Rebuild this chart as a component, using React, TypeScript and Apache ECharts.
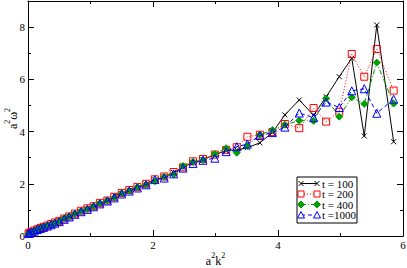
import React, { useEffect, useRef } from "react";
import * as echarts from "echarts";

const xValues = [
  0.01, 0.03, 0.06, 0.1, 0.15, 0.2, 0.25, 0.31, 0.37, 0.43, 0.5, 0.58, 0.66, 0.75, 0.85,
  0.95, 1.05, 1.15, 1.27, 1.38, 1.5, 1.62, 1.75, 1.89, 2.03, 2.18, 2.33, 2.48, 2.64, 2.8,
  2.99, 3.17, 3.34, 3.51, 3.71, 3.91, 4.11, 4.34, 4.57, 4.77, 4.98, 5.18, 5.38, 5.58, 5.85,
];

const t100 = [
  0.1, 0.12, 0.16, 0.2, 0.25, 0.3, 0.35, 0.39, 0.44, 0.5, 0.57, 0.65, 0.74, 0.84, 0.94,
  1.04, 1.14, 1.24, 1.36, 1.56, 1.62, 1.74, 1.86, 1.99, 2.15, 2.26, 2.43, 2.63, 2.82, 2.92,
  3.12, 3.26, 3.3, 3.38, 3.57, 3.96, 4.64, 5.21, 4.62, 5.33, 6.1, 6.81, 3.83, 8.08, 3.61,
];

const t200 = [
  0.1, 0.13, 0.16, 0.21, 0.26, 0.31, 0.35, 0.4, 0.46, 0.52, 0.58, 0.67, 0.75, 0.86, 0.97,
  1.06, 1.14, 1.27, 1.36, 1.5, 1.65, 1.76, 1.88, 2.0, 2.17, 2.28, 2.45, 2.63, 2.86, 2.95,
  3.12, 3.3, 3.4, 3.8, 3.88, 3.98, 4.29, 4.13, 4.9, 4.38, 4.76, 6.97, 6.1, 7.16, 5.57,
];

const t400 = [
  0.1, 0.12, 0.15, 0.2, 0.27, 0.31, 0.35, 0.4, 0.45, 0.5, 0.57, 0.68, 0.75, 0.85, 0.96,
  1.03, 1.14, 1.26, 1.36, 1.47, 1.64, 1.73, 1.87, 1.97, 2.1, 2.27, 2.36, 2.68, 2.84, 2.91,
  3.14, 3.36, 3.19, 3.45, 3.88, 4.06, 4.26, 4.42, 4.41, 5.27, 4.57, 5.31, 5.06, 6.64, 5.07,
];

const t1000 = [
  0.1, 0.11, 0.14, 0.19, 0.25, 0.29, 0.33, 0.38, 0.43, 0.49, 0.55, 0.64, 0.73, 0.83, 0.93,
  1.02, 1.12, 1.23, 1.34, 1.46, 1.61, 1.72, 1.84, 1.96, 2.16, 2.22, 2.38, 2.6, 2.78, 2.9,
  2.98, 3.23, 3.42, 3.52, 3.85, 3.96, 4.17, 4.71, 4.53, 5.13, 4.92, 5.56, 5.64, 4.7, 5.24,
];

const seriesNames = ["t = 100", "t = 200", "t = 400", "t =1000"];
const seriesValues = [t100, t200, t400, t1000];
const seriesColors = ["#000000", "#ff0000", "#00a000", "#0000ff"];

const xTickLabels = ["0", "2", "4", "6"];
const yTickLabels = ["0", "2", "4", "6", "8"];

const FONT = "Liberation Serif";

function markerGraphic(kind: number, cx: number, cy: number, color: string) {
  const h = 3;
  if (kind === 0) {
    return [
      { type: "line", shape: { x1: cx - 2.5, y1: cy - 2.5, x2: cx + 2.5, y2: cy + 2.5 }, style: { stroke: color, lineWidth: 1 }, z: 101 },
      { type: "line", shape: { x1: cx - 2.5, y1: cy + 2.5, x2: cx + 2.5, y2: cy - 2.5 }, style: { stroke: color, lineWidth: 1 }, z: 101 },
    ];
  }
  if (kind === 1) {
    return [{ type: "rect", shape: { x: cx - h, y: cy - h, width: 2 * h, height: 2 * h }, style: { fill: "#fff", stroke: color, lineWidth: 1 }, z: 101 }];
  }
  if (kind === 2) {
    return [{ type: "polygon", shape: { points: [[cx, cy - 3.5], [cx + 3.5, cy], [cx, cy + 3.5], [cx - 3.5, cy]] }, style: { fill: color, stroke: color, lineWidth: 1 }, z: 101 }];
  }
  return [{ type: "polygon", shape: { points: [[cx, cy - 3.5], [cx + 3.5, cy + 3], [cx - 3.5, cy + 3]] }, style: { fill: "#fff", stroke: color, lineWidth: 1 }, z: 101 }];
}

const lineTypes: any[] = ["solid", [1, 2], [5, 2, 1, 2], [4, 3]];

export default function App() {
  const ref = useRef<HTMLDivElement>(null);
  useEffect(() => {
    if (!ref.current) return;
    const chart = echarts.init(ref.current, undefined, { renderer: "svg" });

    const symbols = [
      "path://M0,0L10,10M0,10L10,0",
      "rect",
      "diamond",
      "triangle",
    ];
    const symbolSizes = [5, 7, 7, 8];

    const series = seriesNames.map((name, i) => ({
      name,
      type: "line",
      data: xValues.map((x, j) => [x, seriesValues[i][j]]),
      symbol: symbols[i],
      symbolSize: symbolSizes[i],
      showSymbol: true,
      lineStyle: { color: seriesColors[i], width: 1, type: lineTypes[i] },
      itemStyle:
        i === 2
          ? { color: seriesColors[i], borderColor: seriesColors[i], borderWidth: 1 }
          : i === 0
          ? { color: "#000", borderColor: "#000", borderWidth: 1 }
          : { color: "rgba(255,255,255,0)", borderColor: seriesColors[i], borderWidth: 1 },
      emphasis: { disabled: true },
      z: 2 + i,
    }));

    const legendLeft = 297;
    const legendTop = 177;
    const rowGap = 10.5;
    const graphics: any[] = [
      {
        type: "rect",
        shape: { x: legendLeft, y: legendTop, width: 60, height: 46 },
        style: { fill: "#fff", stroke: "#000", lineWidth: 1 },
        z: 100,
      },
    ];
    seriesNames.forEach((name, i) => {
      const cy = legendTop + 6.5 + i * rowGap;
      const lt = lineTypes[i];
      graphics.push({
        type: "line",
        shape: { x1: 301, y1: cy, x2: 317, y2: cy },
        style: { stroke: seriesColors[i], lineWidth: 1, lineDash: Array.isArray(lt) ? lt : null },
        z: 100,
      });
      graphics.push(...markerGraphic(i, 301, cy, seriesColors[i]));
      graphics.push(...markerGraphic(i, 317, cy, seriesColors[i]));
      graphics.push({
        type: "text",
        x: 322,
        y: cy,
        style: { text: name, fontFamily: FONT, fontSize: 11, fill: "#000", verticalAlign: "middle", align: "left" },
        z: 101,
      });
    });

    const richName = {
      n: { fontFamily: FONT, fontSize: 12, color: "#000", verticalAlign: "bottom", lineHeight: 16 },
      s: { fontFamily: FONT, fontSize: 8, color: "#000", verticalAlign: "top", lineHeight: 8 },
    };

    const commonAxis = {
      type: "value",
      axisLine: { show: true, onZero: false, lineStyle: { color: "#000", width: 1 } },
      axisTick: { show: true, inside: true, length: 6, lineStyle: { color: "#000", width: 1 } },
      minorTick: { show: true, splitNumber: 2, length: 3, lineStyle: { color: "#000", width: 1 } },
      splitLine: { show: false },
      minorSplitLine: { show: false },
    };

    chart.setOption({
      animation: false,
      backgroundColor: "#fff",
      grid: { left: 28, top: 1, width: 375, height: 235, containLabel: false, outerBoundsMode: "none" },
      xAxis: [
        {
          ...commonAxis,
          position: "bottom",
          min: 0,
          max: 6,
          interval: 2,
          axisLabel: {
            fontFamily: FONT,
            fontSize: 11,
            color: "#000",
            margin: 3,
            formatter: (v: number) => (xTickLabels.includes(String(v)) ? String(v) : ""),
          },
          name: "{n|a}{s|2}{n|k}{s|2}",
          nameLocation: "middle",
          nameGap: 15,
          nameMoveOverlap: false,
          nameTextStyle: { rich: richName },
        },
        {
          ...commonAxis,
          position: "top",
          min: 0,
          max: 6,
          interval: 2,
          axisLabel: { show: false },
        },
      ],
      yAxis: [
        {
          ...commonAxis,
          position: "left",
          min: 0,
          max: 9,
          interval: 2,
          axisLabel: {
            fontFamily: FONT,
            fontSize: 11,
            color: "#000",
            margin: 3,
            formatter: (v: number) => (yTickLabels.includes(String(v)) ? String(v) : ""),
          },
          name: "{n|a}{s|2}{n|ω}{s|2}",
          nameLocation: "middle",
          nameGap: 9,
          nameMoveOverlap: false,
          nameTextStyle: { rich: richName },
        },
        {
          ...commonAxis,
          position: "right",
          min: 0,
          max: 9,
          interval: 2,
          axisLabel: { show: false },
        },
      ],
      series,
      graphic: graphics,
    });

    return () => chart.dispose();
  }, []);

  return (
    <div
      ref={ref}
      style={{ position: "absolute", left: 0, top: 0, width: 407, height: 268, background: "#fff" }}
    />
  );
}
